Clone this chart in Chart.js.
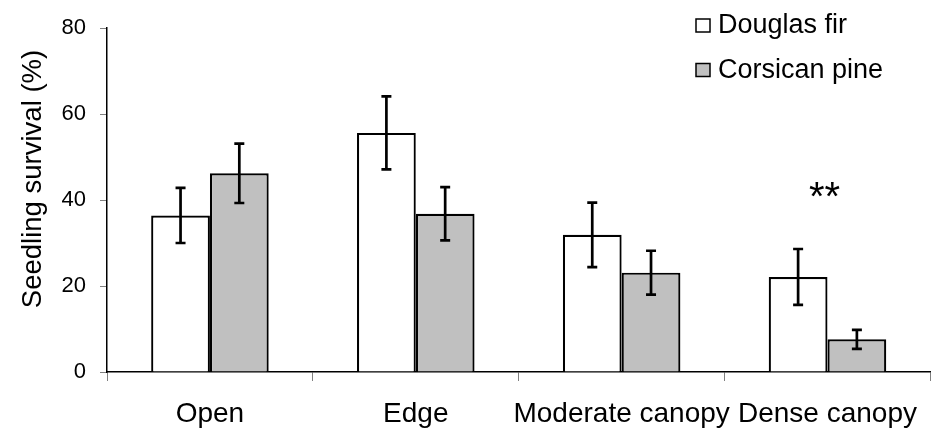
<!DOCTYPE html>
<html>
<head>
<meta charset="utf-8">
<script src="https://cdn.jsdelivr.net/npm/chart.js@4"></script>
<style>
  body { margin: 0; background: #fff; }
</style>
</head>
<body>
<canvas id="survivalChart" width="933" height="428"></canvas>
<script>
// Data
var categories = ['Open', 'Edge', 'Moderate canopy', 'Dense canopy'];
var douglasFir = [36.4, 55.6, 31.9, 22.1];
var douglasErr = [6.4, 8.5, 7.5, 6.5];
var corsicanPine = [46.2, 36.8, 23.1, 7.6];
var corsicanErr = [6.9, 6.2, 5.1, 2.2];
var yTicks = [0, 20, 40, 60, 80];
var marks = ['', '', '', '**'];
var markValue = 43;

var FONT = '"Liberation Sans", Arial, sans-serif';

// Error bars on top of every bar
var errorBars = {
    id: 'errorBars',
    afterDatasetsDraw: function(chart) {
        var ctx = chart.ctx;
        var y = chart.scales.y;
        ctx.save();
        ctx.strokeStyle = '#000';
        ctx.lineWidth = 2.7;
        chart.data.datasets.forEach(function(ds, di) {
            var meta = chart.getDatasetMeta(di);
            meta.data.forEach(function(bar, i) {
                var top = y.getPixelForValue(ds.data[i] + ds.errors[i]);
                var bot = y.getPixelForValue(ds.data[i] - ds.errors[i]);
                ctx.beginPath();
                ctx.moveTo(bar.x, top); ctx.lineTo(bar.x, bot);
                ctx.moveTo(bar.x - 5, top); ctx.lineTo(bar.x + 5, top);
                ctx.moveTo(bar.x - 5, bot); ctx.lineTo(bar.x + 5, bot);
                ctx.stroke();
            });
        });
        ctx.restore();
    }
};

// Significance marks, y axis title and legend
var extras = {
    id: 'extras',
    afterDraw: function(chart) {
        var ctx = chart.ctx;
        var x = chart.scales.x, y = chart.scales.y;
        ctx.save();
        ctx.fillStyle = '#000';
        ctx.textAlign = 'center';
        ctx.textBaseline = 'alphabetic';
        ctx.font = '40px ' + FONT;
        marks.forEach(function(m, i) {
            if (m) ctx.fillText(m, x.getPixelForValue(i) - 3, y.getPixelForValue(markValue) + 23);
        });

        ctx.textBaseline = 'middle';
        ctx.font = '27.5px ' + FONT;
        ctx.save();
        ctx.translate(33, 179);
        ctx.rotate(-Math.PI / 2);
        ctx.fillText('Seedling survival (%)', 0, 0);
        ctx.restore();

        ctx.font = '27px ' + FONT;
        ctx.textAlign = 'left';
        chart.data.datasets.forEach(function(ds, di) {
            var ty = 26 + di * 44.5;
            ctx.fillStyle = ds.backgroundColor;
            ctx.fillRect(696, ty - 7, 14, 13);
            ctx.strokeStyle = '#000';
            ctx.lineWidth = 1.5;
            ctx.strokeRect(696, ty - 7, 14, 13);
            ctx.fillStyle = '#000';
            ctx.fillText(ds.label, 718, ty);
        });
        ctx.restore();
    }
};

var ctx = document.getElementById('survivalChart').getContext('2d');
var survivalChart = new Chart(ctx, {
    type: 'bar',
    data: {
        labels: categories,
        datasets: [{
            label: 'Douglas fir',
            data: douglasFir,
            errors: douglasErr,
            backgroundColor: '#ffffff',
            borderColor: '#000000',
            borderWidth: 2.2
        }, {
            label: 'Corsican pine',
            data: corsicanPine,
            errors: corsicanErr,
            backgroundColor: '#c0c0c0',
            borderColor: '#000000',
            borderWidth: 2.2
        }]
    },
    options: {
        responsive: false,
        animation: false,
        layout: { padding: { top: 28, right: 0, left: 0, bottom: 0 } },
        datasets: {
            bar: { categoryPercentage: 0.571, barPercentage: 1 }
        },
        plugins: {
            legend: { display: false },
            tooltip: { enabled: false }
        },
        scales: {
            x: {
                grid: {
                    offset: true,
                    drawOnChartArea: false,
                    tickLength: 9,
                    color: '#808080'
                },
                border: { color: '#000', width: 1.5 },
                ticks: {
                    color: '#000',
                    padding: 16,
                    maxRotation: 0,
                    autoSkip: false,
                    font: { family: FONT, size: 28 }
                },
                afterFit: function(scale) { scale.height = 56; }
            },
            y: {
                min: 0,
                max: 80,
                afterBuildTicks: function(scale) {
                    scale.ticks = yTicks.map(function(v) { return { value: v }; });
                },
                grid: {
                    drawOnChartArea: false,
                    tickLength: 7,
                    color: '#808080'
                },
                border: { color: '#000', width: 1.5 },
                ticks: {
                    color: '#000',
                    padding: 14,
                    font: { family: FONT, size: 22 }
                },
                afterFit: function(scale) { scale.width = 107; }
            }
        }
    },
    plugins: [errorBars, extras]
});
</script>
</body>
</html>
